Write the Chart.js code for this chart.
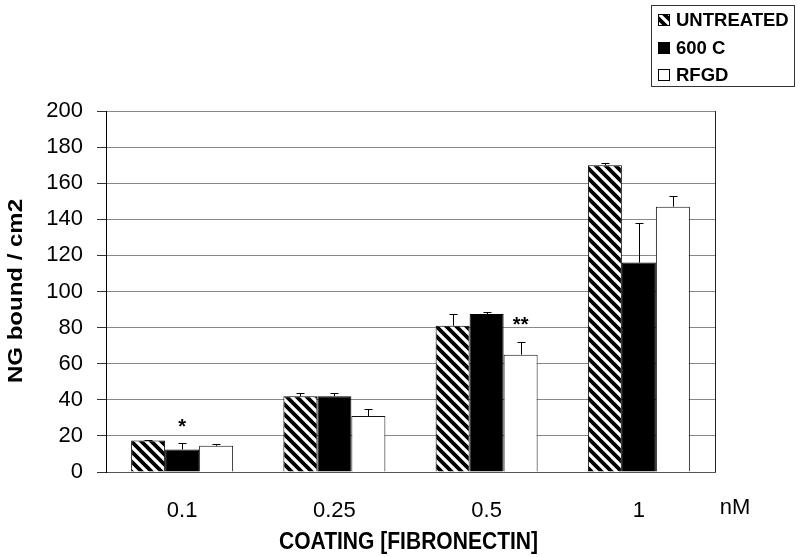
<!DOCTYPE html>
<html>
<head>
<meta charset="utf-8">
<script src="https://cdn.jsdelivr.net/npm/chart.js@4.4.0/dist/chart.umd.min.js"></script>
<style>
  html, body { margin: 0; padding: 0; background: #fff; }
  #wrap { width: 800px; height: 557px; position: relative; }
</style>
</head>
<body>
<div id="wrap"><canvas id="c"></canvas></div>
<script>
const categories = ['0.1', '0.25', '0.5', '1'];
const seriesNames = ['UNTREATED', '600 C', 'RFGD'];
const untreated = [17.5, 42, 81, 170];
const untreatedErr = [0.5, 2, 6.5, 1];
const c600 = [12.5, 42, 87.5, 116];
const c600Err = [3.5, 2, 1, 22];
const rfgd = [14.5, 31, 65, 147];
const rfgdErr = [1, 4, 7, 6];
const yTicks = [0, 20, 40, 60, 80, 100, 120, 140, 160, 180, 200];
// significance marks: [series index, category index, value at which mark is centred, text]
const marks = [[1, 0, 27, '*'], [2, 2, 83.5, '**']];

const FONT = '"Liberation Sans", Arial, Helvetica, sans-serif';

function makeHatch() {
  const n = 10;
  const p = document.createElement('canvas');
  p.width = n; p.height = n;
  const g = p.getContext('2d');
  g.fillStyle = '#fff';
  g.fillRect(0, 0, n, n);
  g.strokeStyle = '#000';
  g.lineWidth = 3.8;
  g.beginPath();
  g.moveTo(-2, -2); g.lineTo(n + 2, n + 2);
  g.moveTo(-n - 2, -2); g.lineTo(2, n + 2);
  g.moveTo(n - 2, -2); g.lineTo(2 * n + 2, n + 2);
  g.stroke();
  return g.createPattern(p, 'repeat');
}
const hatch = makeHatch();

const errs = [untreatedErr, c600Err, rfgdErr];

const extras = {
  id: 'extras',
  afterDatasetsDraw(chart) {
    const ctx = chart.ctx;
    const y = chart.scales.y;
    const area = chart.chartArea;
    ctx.save();
    // right border of plot
    ctx.strokeStyle = '#222';
    ctx.lineWidth = 1;
    ctx.beginPath();
    ctx.moveTo(Math.round(area.right) + 0.5, area.top);
    ctx.lineTo(Math.round(area.right) + 0.5, area.bottom);
    ctx.stroke();
    // error bars
    chart.data.datasets.forEach((ds, di) => {
      const meta = chart.getDatasetMeta(di);
      meta.data.forEach((el, i) => {
        const v = ds.data[i];
        const top = y.getPixelForValue(v + errs[di][i]);
        const x = Math.round(el.x) + 0.5;
        ctx.strokeStyle = '#000';
        ctx.lineWidth = 1;
        ctx.beginPath();
        ctx.moveTo(x, el.y);
        ctx.lineTo(x, Math.round(top) + 0.5);
        ctx.moveTo(x - 4, Math.round(top) + 0.5);
        ctx.lineTo(x + 4, Math.round(top) + 0.5);
        ctx.stroke();
      });
    });
    // significance marks
    ctx.fillStyle = '#000';
    ctx.font = 'bold 20px ' + FONT;
    ctx.textAlign = 'center';
    ctx.textBaseline = 'middle';
    marks.forEach(([di, ci, val, txt]) => {
      const el = chart.getDatasetMeta(di).data[ci];
      ctx.fillText(txt, el.x, y.getPixelForValue(val) + 4);
    });
    ctx.restore();
  },
  afterDraw(chart) {
    const ctx = chart.ctx;
    const area = chart.chartArea;
    ctx.save();
    ctx.fillStyle = '#000';
    // y axis title
    ctx.font = 'bold 24px ' + FONT;
    ctx.textAlign = 'center';
    ctx.textBaseline = 'middle';
    ctx.translate(16, 291);
    ctx.rotate(-Math.PI / 2);
    ctx.scale(1, 0.85);
    ctx.fillText('NG bound / cm2', 0, 0);
    ctx.setTransform(1, 0, 0, 1, 0, 0);
    // x axis title
    ctx.font = 'bold 23px ' + FONT;
    ctx.translate((area.left + area.right) / 2 - 2, 543);
    ctx.scale(0.915, 1);
    ctx.fillText('COATING [FIBRONECTIN]', 0, 0);
    ctx.setTransform(1, 0, 0, 1, 0, 0);
    // unit
    ctx.font = '22px ' + FONT;
    ctx.fillText('nM', 735, 508);
    // legend
    const bx = 651, by = 5, bw = 143, bh = 81;
    ctx.fillStyle = '#fff';
    ctx.fillRect(bx, by, bw, bh);
    ctx.strokeStyle = '#333';
    ctx.lineWidth = 1;
    ctx.strokeRect(bx + 0.5, by + 0.5, bw, bh);
    const rows = [20, 48, 75];
    chart.data.datasets.forEach((ds, di) => {
      const cy = rows[di];
      ctx.fillStyle = ds.backgroundColor;
      ctx.fillRect(658, cy - 6, 12, 12);
      ctx.strokeStyle = '#000';
      ctx.strokeRect(658.5, cy - 5.5, 11, 11);
      ctx.fillStyle = '#000';
      ctx.font = 'bold 18.5px ' + FONT;
      ctx.textAlign = 'left';
      ctx.fillText(ds.label, 676, cy + 1);
    });
    ctx.restore();
  }
};

new Chart(document.getElementById('c'), {
  type: 'bar',
  data: {
    labels: categories,
    datasets: [
      { label: seriesNames[0], data: untreated, backgroundColor: hatch, borderColor: '#000', borderWidth: 1 },
      { label: seriesNames[1], data: c600, backgroundColor: '#000', borderColor: '#000', borderWidth: 1 },
      { label: seriesNames[2], data: rfgd, backgroundColor: '#fff', borderColor: '#111', borderWidth: 1 }
    ]
  },
  options: {
    responsive: true,
    maintainAspectRatio: false,
    animation: false,
    layout: { padding: { left: 0, top: 111, right: 85, bottom: 0 } },
    datasets: { bar: { categoryPercentage: 0.67, barPercentage: 1.0 } },
    plugins: { legend: { display: false }, tooltip: { enabled: false } },
    scales: {
      x: {
        grid: { display: false },
        border: { display: true, color: '#555', width: 1 },
        ticks: { color: '#000', font: { family: FONT, size: 22 }, padding: 18, maxRotation: 0 },
        afterFit(s) { s.height = 85; }
      },
      y: {
        min: 0, max: 200,
        afterBuildTicks(s) { s.ticks = yTicks.map(v => ({ value: v })); },
        grid: { color: '#888', lineWidth: 1, tickLength: 9, tickColor: '#333' },
        border: { display: true, color: '#000', width: 1 },
        ticks: { color: '#000', font: { family: FONT, size: 22 }, padding: 14 },
        afterFit(s) { s.width = 106; }
      }
    }
  },
  plugins: [extras]
});
</script>
</body>
</html>
